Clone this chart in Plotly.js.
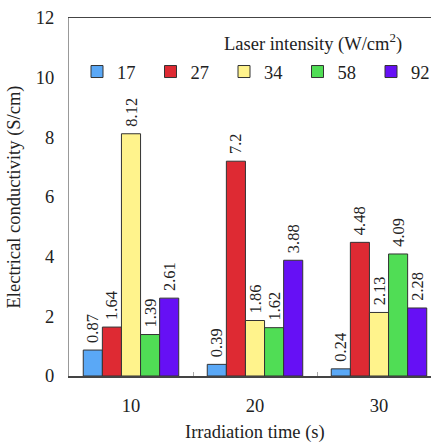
<!DOCTYPE html>
<html>
<head>
<meta charset="utf-8">
<script src="https://cdn.plot.ly/plotly-3.0.1.min.js"></script>
<style>html,body{margin:0;padding:0;background:#fff;overflow:hidden;}#chart{width:431px;height:443px;overflow:hidden;}</style>
</head>
<body>
<div id="chart"></div>
<script>
var categories = ['10', '20', '30'];
var seriesNames = ['17', '27', '34', '58', '92'];
var s17 = [0.87, 0.39, 0.24];
var s27 = [1.64, 7.2, 4.48];
var s34 = [8.12, 1.86, 2.13];
var s58 = [1.39, 1.62, 4.09];
var s92 = [2.61, 3.88, 2.28];
var labels17 = ['0.87', '0.39', '0.24'];
var labels27 = ['1.64', '7.2', '4.48'];
var labels34 = ['8.12', '1.86', '2.13'];
var labels58 = ['1.39', '1.62', '4.09'];
var labels92 = ['2.61', '3.88', '2.28'];
var yTicks = [0, 2, 4, 6, 8, 10, 12];

var colors = ['#5aa8f6', '#de2a33', '#fff38c', '#50dd55', '#6610f5'];
var values = [s17, s27, s34, s58, s92];
var labels = [labels17, labels27, labels34, labels58, labels92];
var FONT = 'Liberation Serif, Times New Roman, serif';
var FS = 18.5;

// The reference is cropped on its right side: the figure is drawn wider and clipped to 431 px.
var FIG_W = 470, L = 69, PLOT_W = FIG_W - L, PLOT_H = 358;

var traces = seriesNames.map(function (n, i) {
  return {
    type: 'bar', name: n, x: categories, y: values[i],
    text: labels[i].map(function (t) { return '\u00a0' + t; }),
    textposition: 'outside', textangle: -90,
    constraintext: 'none', cliponaxis: false,
    textfont: {family: FONT, size: 16.5, color: '#222'},
    marker: {color: colors[i], line: {color: '#333', width: 1}},
    hoverinfo: 'none'
  };
});

var layout = {
  width: FIG_W, height: 443,
  margin: {l: L, r: 0, t: 18, b: 67},
  paper_bgcolor: '#fff', plot_bgcolor: '#fff',
  font: {family: FONT, size: FS, color: '#222'},
  barmode: 'group', bargap: 0.23, bargroupgap: 0,
  showlegend: true,
  legend: {
    orientation: 'h', x: (77 - L) / PLOT_W, xanchor: 'left', y: (376 - 72) / PLOT_H, yanchor: 'middle',
    entrywidth: 28.5, entrywidthmode: 'pixels',
    font: {family: FONT, size: FS, color: '#222'},
    bgcolor: 'rgba(0,0,0,0)', itemclick: false
  },
  xaxis: {
    type: 'category', range: [-0.5, -0.5 + PLOT_W / 124],
    showline: true, linecolor: '#444', linewidth: 1.5, mirror: true,
    ticks: 'inside', tickson: 'boundaries', ticklen: 4, tickcolor: '#aaa',
    tickfont: {family: FONT, size: FS, color: '#222'},
    ticklabelstandoff: 12,
    showgrid: false, zeroline: false
  },
  yaxis: {
    range: [0, 12], tickvals: yTicks, ticktext: yTicks.map(String),
    showline: true, linecolor: '#999', linewidth: 1,
    ticks: '', showgrid: false, zeroline: false,
    tickfont: {family: FONT, size: FS, color: '#222'},
    ticklabelstandoff: 10,
    title: {text: 'Electrical conductivity (S/cm)', font: {family: FONT, size: FS, color: '#222'}, standoff: 10}
  },
  annotations: [{
    xref: 'paper', yref: 'paper', x: (222 - L) / PLOT_W, y: (376 - 42) / PLOT_H,
    xanchor: 'left', yanchor: 'middle', showarrow: false,
    text: 'Laser intensity (W/cm<sup>2</sup>)',
    font: {family: FONT, size: FS, color: '#222'}
  }, {
    xref: 'paper', yref: 'paper', x: (255 - L) / PLOT_W, y: (376 - 432) / PLOT_H,
    xanchor: 'center', yanchor: 'middle', showarrow: false,
    text: 'Irradiation time (s)',
    font: {family: FONT, size: FS, color: '#222'}
  }]
};

Plotly.newPlot('chart', traces, layout, {staticPlot: true, displayModeBar: false});
</script>
</body>
</html>
